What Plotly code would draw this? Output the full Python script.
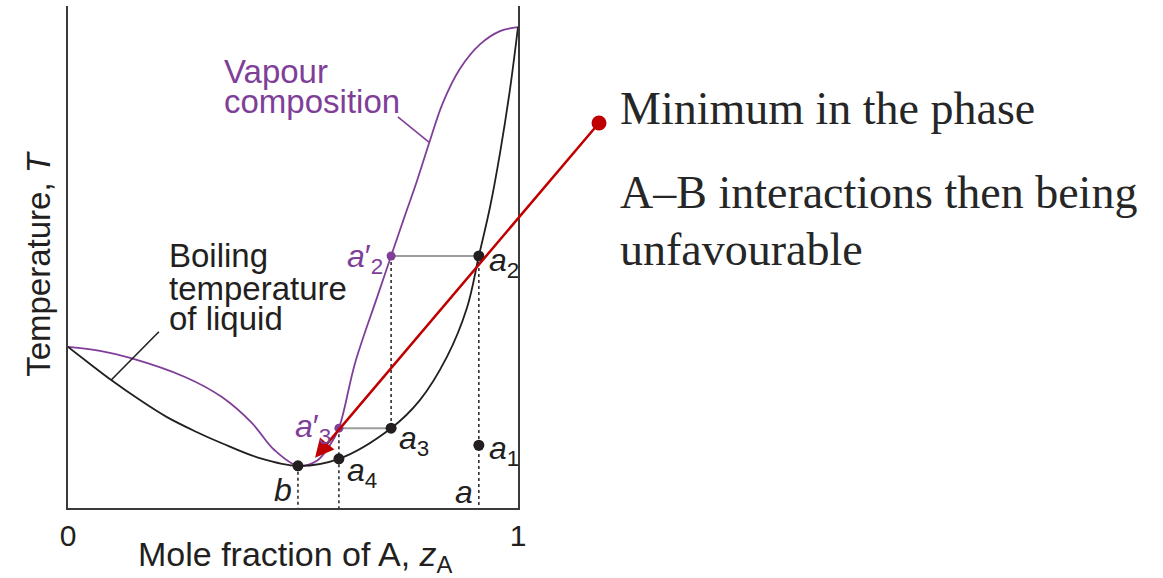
import plotly.graph_objects as go

# ---- phase-diagram data (x = mole fraction of A, T = temperature in arbitrary units) ----
liquid_x = [0.0, 0.049, 0.096, 0.16, 0.22, 0.282, 0.342, 0.424, 0.511, 0.602, 0.718,
            0.782, 0.842, 0.887, 0.913, 0.938, 0.96, 0.982, 1.0]
liquid_T = [32.1, 28.7, 25.5, 21.5, 18.1, 15.3, 12.9, 10.0, 8.4, 9.8, 15.9,
            21.5, 30.1, 40.0, 50.2, 60.0, 70.7, 83.3, 95.8]

vapour_x = [0.0, 0.071, 0.138, 0.26, 0.342, 0.409, 0.458, 0.511, 0.553, 0.582, 0.602,
            0.638, 0.687, 0.718, 0.747, 0.776, 0.804, 0.833, 0.871, 0.916, 0.96, 1.0]
vapour_T = [32.1, 31.3, 29.9, 26.1, 22.1, 16.9, 11.6, 8.4, 9.4, 12.5, 15.9,
            28.9, 42.0, 50.2, 57.8, 65.3, 73.1, 80.7, 87.5, 92.4, 95.0, 95.8]

# named state points
pt_names = ["b", "a4", "a3", "a2", "a1"]
pt_x = [0.511, 0.602, 0.718, 0.913, 0.913]
pt_T = [8.4, 9.8, 15.9, 50.2, 12.5]
vap_names = ["a2p", "a3p"]
vap_x = [0.718, 0.602]
vap_T = [50.2, 15.9]

# leader lines for the curve labels
vap_leader_x = [0.733, 0.802]
vap_leader_T = [77.9, 72.9]
liq_leader_x = [0.096, 0.202]
liq_leader_T = [25.5, 35.1]

# arrow from the note to the minimum
arrow_tip = (0.549, 10.0)
arrow_tail = (1.18, 76.7)

x_range = [0, 1]
T_range = [0, 100]
x_tick_vals = [0, 1]
x_tick_text = ["0", "1"]

note_lines = ["Minimum in the phase", "A–B interactions then being", "unfavourable"]

INK = "#231f20"
PURPLE = "#7f3f98"
GREY = "#9c9c9c"
RED = "#c00000"
SANS = "Liberation Sans, Arial, sans-serif"
SERIF = "Liberation Serif, Times New Roman, serif"

P = dict(zip(pt_names, zip(pt_x, pt_T)))
V = dict(zip(vap_names, zip(vap_x, vap_T)))

fig = go.Figure()

# tie lines
for a, b in [(V["a2p"], P["a2"]), (V["a3p"], P["a3"])]:
    fig.add_trace(go.Scatter(x=[a[0], b[0]], y=[a[1], b[1]], mode="lines",
                             line=dict(color=GREY, width=2), hoverinfo="skip"))

# dotted verticals
drops = [(P["b"], (P["b"][0], 0)),
         (V["a3p"], (V["a3p"][0], 0)),
         (V["a2p"], P["a3"]),
         (P["a2"], (P["a2"][0], 0))]
for a, b in drops:
    fig.add_trace(go.Scatter(x=[a[0], b[0]], y=[a[1], b[1]], mode="lines",
                             line=dict(color=INK, width=1.5, dash="dot"), hoverinfo="skip"))

# curves
fig.add_trace(go.Scatter(x=vapour_x, y=vapour_T, mode="lines",
                         line=dict(color=PURPLE, width=1.8, shape="spline", smoothing=1.0)))
fig.add_trace(go.Scatter(x=liquid_x, y=liquid_T, mode="lines",
                         line=dict(color=INK, width=1.8, shape="spline", smoothing=1.0)))

# leader lines
fig.add_trace(go.Scatter(x=vap_leader_x, y=vap_leader_T, mode="lines",
                         line=dict(color=PURPLE, width=1.6)))
fig.add_trace(go.Scatter(x=liq_leader_x, y=liq_leader_T, mode="lines",
                         line=dict(color=INK, width=1.6)))

# state points
fig.add_trace(go.Scatter(x=pt_x, y=pt_T, mode="markers",
                         marker=dict(color=INK, size=11)))
fig.add_trace(go.Scatter(x=vap_x, y=vap_T, mode="markers",
                         marker=dict(color=PURPLE, size=9)))

# red dot at the start of the note arrow (paper coords so it is not clipped)
tail_px = (arrow_tail[0] - x_range[0]) / (x_range[1] - x_range[0])
tail_py = (arrow_tail[1] - T_range[0]) / (T_range[1] - T_range[0])
shapes = [dict(type="circle", xref="paper", yref="paper", xsizemode="pixel",
               ysizemode="pixel", xanchor=tail_px, yanchor=tail_py,
               x0=-7.5, x1=7.5, y0=-7.5, y1=7.5,
               fillcolor=RED, line=dict(color=RED, width=0), layer="above")]

ann = []
# arrow
ann.append(dict(x=arrow_tip[0], y=arrow_tip[1], ax=arrow_tail[0], ay=arrow_tail[1],
                xref="x", yref="y", axref="x", ayref="y", text="", showarrow=True,
                arrowhead=2, arrowsize=1.5, arrowwidth=2.5, arrowcolor=RED, standoff=0))

lab_font = dict(family=SANS, size=32, color=INK)
pur_font = dict(family=SANS, size=32, color=PURPLE)


def sub(base, idx, prime=False):
    return "<i>%s</i>%s<sub>%s</sub>" % (base, "′" if prime else "", idx)


point_labels = [
    (V["a2p"], sub("a", "2", True), pur_font, "right", -6, -2),
    (P["a2"], sub("a", "2"), lab_font, "left", 8, -6),
    (V["a3p"], sub("a", "3", True), pur_font, "right", -6, 0),
    (P["a3"], sub("a", "3"), lab_font, "left", 6, -12),
    (P["a1"], sub("a", "1"), lab_font, "left", 8, -5),
    (P["a4"], sub("a", "4"), lab_font, "left", 6, -14),
]
for (x, y), txt, f, xa, dx, dy in point_labels:
    ann.append(dict(x=x, y=y, xref="x", yref="y", text=txt, font=f, showarrow=False,
                    xanchor=xa, yanchor="middle", xshift=dx, yshift=dy))
ann.append(dict(x=P["b"][0], y=3.6, xref="x", yref="y", text="<i>b</i>", font=lab_font,
                showarrow=False, xanchor="right", yanchor="middle", xshift=-4))
ann.append(dict(x=P["a2"][0], y=3.2, xref="x", yref="y", text="<i>a</i>", font=lab_font,
                showarrow=False, xanchor="right", yanchor="middle", xshift=-4))

# curve captions
big = 33
for txt, y in [("Vapour", 87.0), ("composition", 81.0)]:
    ann.append(dict(x=0.342, y=y, xref="x", yref="y", text=txt, showarrow=False,
                    xanchor="left", yanchor="middle",
                    font=dict(family=SANS, size=big, color=PURPLE)))
for txt, y in [("Boiling", 50.3), ("temperature", 43.7), ("of liquid", 37.8)]:
    ann.append(dict(x=0.22, y=y, xref="x", yref="y", text=txt, showarrow=False,
                    xanchor="left", yanchor="middle",
                    font=dict(family=SANS, size=big, color=INK)))

# axis titles
ann.append(dict(x=-0.067, y=0.488, xref="paper", yref="paper", text="Temperature, <i>T</i>",
                textangle=-90, showarrow=False, xanchor="center", yanchor="middle",
                font=dict(family=SANS, size=big, color=INK)))
ann.append(dict(x=0.505, y=-0.097, xref="paper", yref="paper",
                text="Mole fraction of A, <i>z</i><sub>A</sub>", showarrow=False,
                xanchor="center", yanchor="middle",
                font=dict(family=SANS, size=34, color=INK)))

# note text
for txt, yc in zip(note_lines, [108.5, 192.5, 249.5]):
    ann.append(dict(x=(618 - 68) / 450, y=(508 - yc) / 502, xref="paper", yref="paper",
                    text=txt, showarrow=False, xanchor="left", yanchor="middle",
                    font=dict(family=SERIF, size=46, color="#262626")))

fig.update_layout(
    width=1163, height=578, autosize=False,
    margin=dict(l=68, r=645, t=6, b=70, pad=0),
    paper_bgcolor="white", plot_bgcolor="white",
    showlegend=False, annotations=ann, shapes=shapes,
    xaxis=dict(range=x_range, showgrid=False, zeroline=False, showline=True,
               linecolor="#3a3a3a", linewidth=1.5, ticks="", tickvals=x_tick_vals,
               ticktext=x_tick_text, ticklabelstandoff=0,
               tickfont=dict(family=SANS, size=30, color=INK), fixedrange=True),
    yaxis=dict(range=T_range, showgrid=False, zeroline=False, showline=True, mirror=True,
               linecolor="#3a3a3a", linewidth=1.5, showticklabels=False, ticks="",
               fixedrange=True),
)

fig.write_html("out.html")
